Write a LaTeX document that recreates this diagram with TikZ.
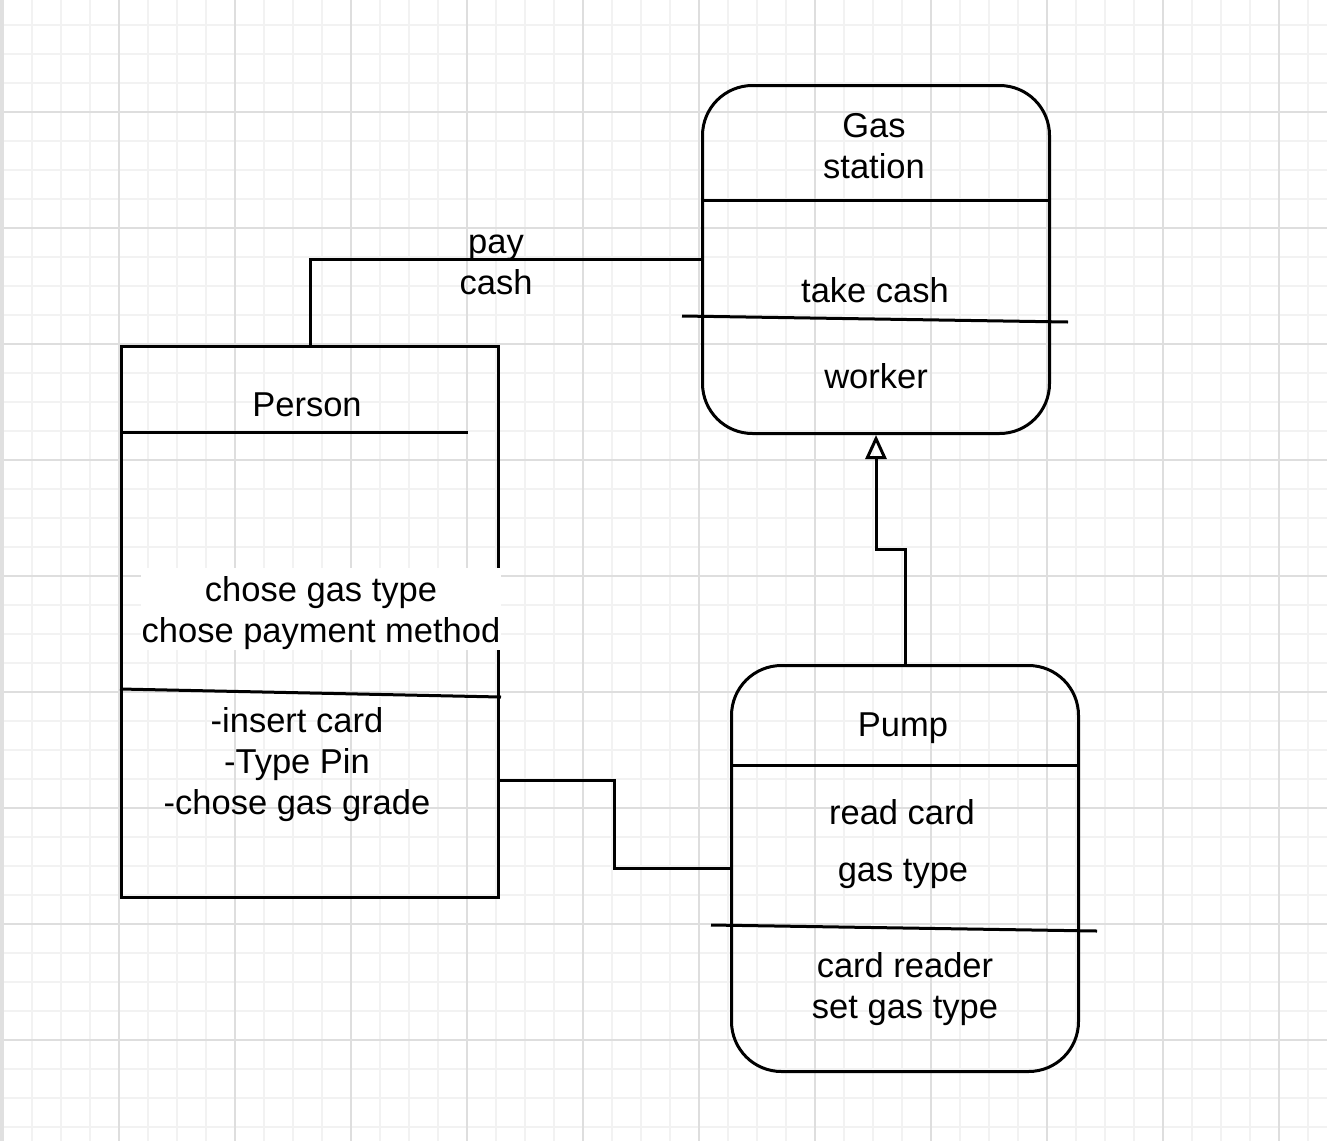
\documentclass[tikz,border=0pt]{standalone}
\usepackage{fontspec}
\setmainfont{Liberation Sans}
\usetikzlibrary{arrows.meta,calc}
\begin{document}
\begin{tikzpicture}[x=1pt,y=-1pt,
  minorgrid/.style={draw=black!5,line width=1.2pt},
  majorgrid/.style={draw=black!13,line width=1.2pt},
  umlline/.style={draw=black,line width=3pt},
  box/.style={draw=black,line width=3pt,inner sep=0pt,anchor=north west},
  roundbox/.style={box,rounded corners=50pt},
  lbl/.style={font=\fontsize{34.5}{41}\selectfont,align=center,inner sep=0pt,text height=33pt,text depth=8pt},
  twolines/.style={text height=74pt},
  threelines/.style={text height=115pt},
  inherit/.style={umlline,-{Triangle[open,length=24pt,width=21pt]}}]
% background and grid
\useasboundingbox (0,0) rectangle (1327,1141);
\clip (0,0) rectangle (1327,1141);
\fill[white] (0,0) rectangle (1327,1141);
\foreach \x in {3,32,...,1327} \draw[minorgrid] (\x,0) -- (\x,1141);
\foreach \y in {-4,25,...,1141} \draw[minorgrid] (0,\y) -- (1327,\y);
\foreach \x in {3,119,...,1327} \draw[majorgrid] (\x,0) -- (\x,1141);
\foreach \y in {-4,112,...,1141} \draw[majorgrid] (0,\y) -- (1327,\y);
\fill[black!12] (0,0) rectangle (3.5,1141);
% boxes
\node[roundbox,minimum width=347pt,minimum height=348pt] (gas) at (701,84) {};
\node[box,minimum width=377pt,minimum height=551pt] (person) at (120,345) {};
\node[roundbox,minimum width=347pt,minimum height=406pt] (pump) at (730,664) {};
% separators
\draw[umlline] (701,200) -- (1048,200);
\draw[umlline] (682,316) -- (1068,322);
\draw[umlline] (120,432) -- (468,432);
\draw[umlline] (120,689) -- (501,697);
\draw[umlline] (730,765) -- (1077,765);
\draw[umlline] (711,925) -- (1097,931);
% texts
\node[lbl,twolines] (gastitle) at (874,145) {Gas\\station};
\node[lbl] (takecash) at (875,290) {take cash};
\node[lbl] (worker) at (876,376) {worker};
\node[lbl] (persontitle) at (307,404) {Person};
\node[lbl,twolines,fill=white,inner xsep=1pt] (chose) at (321,609) {chose gas type\\chose payment method};
\node[lbl,threelines] (insert) at (297,761) {-insert card\\-Type Pin\\-chose gas grade};
\node[lbl] (pumptitle) at (903,724) {Pump};
\node[lbl] (readcard) at (902,812) {read card};
\node[lbl] (gastype) at (903,869) {gas type};
\node[lbl,twolines] (cardreader) at (905,985) {card reader\\set gas type};
% connectors
\draw[umlline] (person.north) |- (gas.west);
\node[lbl,twolines] (paycash) at (496,261) {pay\\cash};
\coordinate (pp1) at (614,780);
\draw[umlline] (person.east |- pp1) -- (pp1) |- (pump.west);
\draw[inherit] (pump.north) |- ($(gas.south)!.5!(pump.north)$) -| (gas.south);
\end{tikzpicture}
\end{document}
